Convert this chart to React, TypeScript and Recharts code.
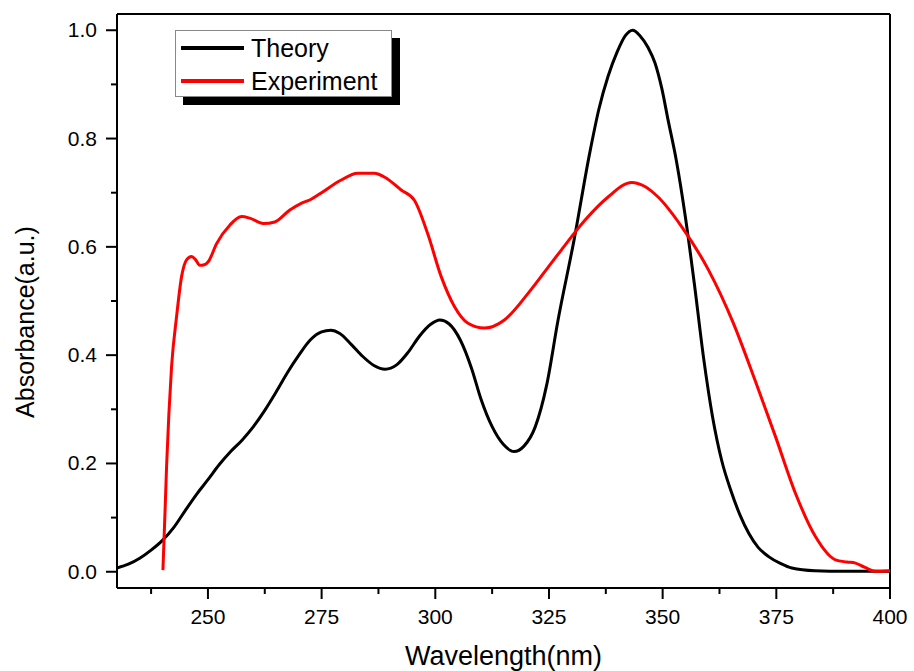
import React from 'react';
import { LineChart, Line, XAxis, YAxis, ReferenceLine, Legend, Label } from 'recharts';

const seriesNames = ['Theory', 'Experiment'];

const theoryX = [230, 232.5, 235, 237.5, 240, 242.5, 245, 247.5, 250, 252.5, 255, 257.5, 260, 262.5, 265, 267.5, 270, 272.5, 275, 277, 279, 281.5, 284, 286.5, 289, 291.5, 294, 296.5, 299, 301, 303, 305.5, 308, 310, 312.5, 315, 317.3, 319.5, 322, 324.5, 327, 330.5, 334, 336, 338, 340, 341.8, 343.4, 345, 346.8, 348.3, 349.8, 351.2, 353, 355, 357, 359, 361, 363, 365, 367, 369, 371, 373.3, 376, 378.4, 383.5, 390, 400];
const theoryY = [0.007, 0.014, 0.025, 0.04, 0.058, 0.082, 0.113, 0.143, 0.17, 0.198, 0.222, 0.243, 0.268, 0.298, 0.332, 0.368, 0.4, 0.428, 0.443, 0.446, 0.44, 0.42, 0.398, 0.381, 0.374, 0.382, 0.405, 0.435, 0.457, 0.465, 0.458, 0.428, 0.375, 0.32, 0.268, 0.235, 0.222, 0.232, 0.268, 0.345, 0.465, 0.612, 0.775, 0.855, 0.915, 0.96, 0.99, 1.0, 0.99, 0.968, 0.94, 0.893, 0.834, 0.76, 0.655, 0.53, 0.395, 0.285, 0.205, 0.15, 0.105, 0.07, 0.045, 0.028, 0.015, 0.007, 0.002, 0.001, 0.001];

const expX = [240.1, 240.6, 240.9, 241.4, 242.0, 243.1, 244.2, 245.3, 246.4, 247.3, 248.2, 249.2, 250.1, 251.9, 254.8, 257.4, 259.2, 262.2, 264.7, 268.0, 270.4, 272.5, 274.8, 279.2, 282.9, 286.6, 288.8, 292.5, 295.4, 298.3, 301.3, 304.2, 307.2, 310.8, 315.2, 320.4, 325.5, 327.7, 332.9, 338.0, 343.2, 346, 349.0, 354.2, 360.1, 365.5, 370.3, 374.8, 379.2, 383.6, 388.0, 390.5, 392.4, 394.5, 396.8, 400];
const expY = [0.003, 0.12, 0.194, 0.29, 0.379, 0.471, 0.545, 0.576, 0.582, 0.576, 0.566, 0.567, 0.573, 0.606, 0.64, 0.656, 0.653, 0.643, 0.646, 0.668, 0.68, 0.687, 0.699, 0.723, 0.736, 0.736, 0.729, 0.705, 0.686, 0.625, 0.545, 0.49, 0.459, 0.45, 0.465, 0.514, 0.57, 0.594, 0.649, 0.692, 0.719, 0.712, 0.692, 0.637, 0.557, 0.46, 0.354, 0.25, 0.145, 0.065, 0.022, 0.018, 0.016, 0.008, 0.001, 0.002];

const xTicks = [237.5, 250, 262.5, 275, 287.5, 300, 312.5, 325, 337.5, 350, 362.5, 375, 387.5, 400];
const yTicks = [0, 0.1, 0.2, 0.3, 0.4, 0.5, 0.6, 0.7, 0.8, 0.9, 1.0];

const theoryData = theoryX.map((x, i) => ({ x, y: theoryY[i] }));
const expData = expX.map((x, i) => ({ x, y: expY[i] }));

const FONT = '"Liberation Sans", Arial, Helvetica, sans-serif';

const XTick = (props: any) => {
  const { x, y, payload } = props;
  const v = payload.value;
  const major = Math.abs(v % 25) < 1e-6;
  return (
    <g>
      <line x1={x} x2={x} y1={y} y2={y + (major ? 11 : 6)} stroke="#000" strokeWidth={2} />
      {major && (
        <text x={x} y={y + 36} textAnchor="middle" fontSize={21} fontFamily={FONT} fill="#000">
          {v}
        </text>
      )}
    </g>
  );
};

const YTick = (props: any) => {
  const { x, y, payload } = props;
  const v = payload.value;
  const major = Math.round(v * 10) % 2 === 0;
  return (
    <g>
      <line x1={x - (major ? 11 : 6)} x2={x} y1={y} y2={y} stroke="#000" strokeWidth={2} />
      {major && (
        <text x={x - 20} y={y + 7} textAnchor="end" fontSize={21} fontFamily={FONT} fill="#000">
          {v.toFixed(1)}
        </text>
      )}
    </g>
  );
};

const YTitle = () => (
  <text
    x={34}
    y={322}
    transform="rotate(-90 34 322)"
    textAnchor="middle"
    fontSize={25}
    fontFamily={FONT}
    fill="#000"
  >
    Absorbance(a.u.)
  </text>
);

const renderLegend = (props: any) => {
  const payload = [...(props.payload || [])].sort(
    (a: any, b: any) => seriesNames.indexOf(a.value) - seriesNames.indexOf(b.value)
  );
  return (
    <div
      style={{
        width: 217,
        height: 67,
        border: '1px solid #888',
        background: '#fff',
        boxShadow: '8px 8px 0 #000',
        boxSizing: 'border-box',
        position: 'relative',
        fontFamily: FONT,
      }}
    >
      {payload.map((p: any, i: number) => (
        <div
          key={i}
          style={{
            position: 'absolute',
            left: 5,
            top: 3 + i * 33,
            height: 28,
            display: 'flex',
            alignItems: 'center',
          }}
        >
          <div style={{ width: 63, height: 4, background: p.color }} />
          <span style={{ marginLeft: 7, fontSize: 25, color: '#000', lineHeight: '28px' }}>{p.value}</span>
        </div>
      ))}
    </div>
  );
};

export default function App() {
  return (
    <div style={{ position: 'absolute', left: 0, top: 0, background: '#fff' }}>
      <LineChart width={914} height={671} margin={{ top: 14, right: 24, bottom: 0, left: 0 }}>
        <XAxis
          type="number"
          dataKey="x"
          domain={[230, 400]}
          ticks={xTicks}
          interval={0}
          allowDataOverflow
          tickSize={0}
          tickMargin={0}
          tickLine={false}
          axisLine={{ stroke: '#000', strokeWidth: 2 }}
          height={83}
          tick={<XTick />}
        >
          <Label
            value="Wavelength(nm)"
            position="insideBottom"
            offset={6}
            style={{ fontSize: 27, fontFamily: FONT, fill: '#000' }}
          />
        </XAxis>
        <YAxis
          type="number"
          domain={[-0.03, 1.03]}
          ticks={yTicks}
          interval={0}
          allowDataOverflow
          tickSize={0}
          tickMargin={0}
          tickLine={false}
          axisLine={{ stroke: '#000', strokeWidth: 2 }}
          width={117}
          tick={<YTick />}
        >
          <Label content={<YTitle />} />
        </YAxis>
        <ReferenceLine y={1.03} stroke="#000" strokeWidth={2} />
        <ReferenceLine x={400} stroke="#000" strokeWidth={2} />
        <Legend
          layout="horizontal"
          verticalAlign="middle"
          align="center"
          content={renderLegend}
          wrapperStyle={{ left: 175, top: 30, width: 217, height: 67 }}
        />
        <Line
          data={theoryData}
          dataKey="y"
          name={seriesNames[0]}
          type="monotone"
          stroke="#000000"
          strokeWidth={3}
          dot={false}
          activeDot={false}
          isAnimationActive={false}
        />
        <Line
          data={expData}
          dataKey="y"
          name={seriesNames[1]}
          type="monotone"
          stroke="#ff0000"
          strokeWidth={3}
          dot={false}
          activeDot={false}
          isAnimationActive={false}
        />
      </LineChart>
    </div>
  );
}
